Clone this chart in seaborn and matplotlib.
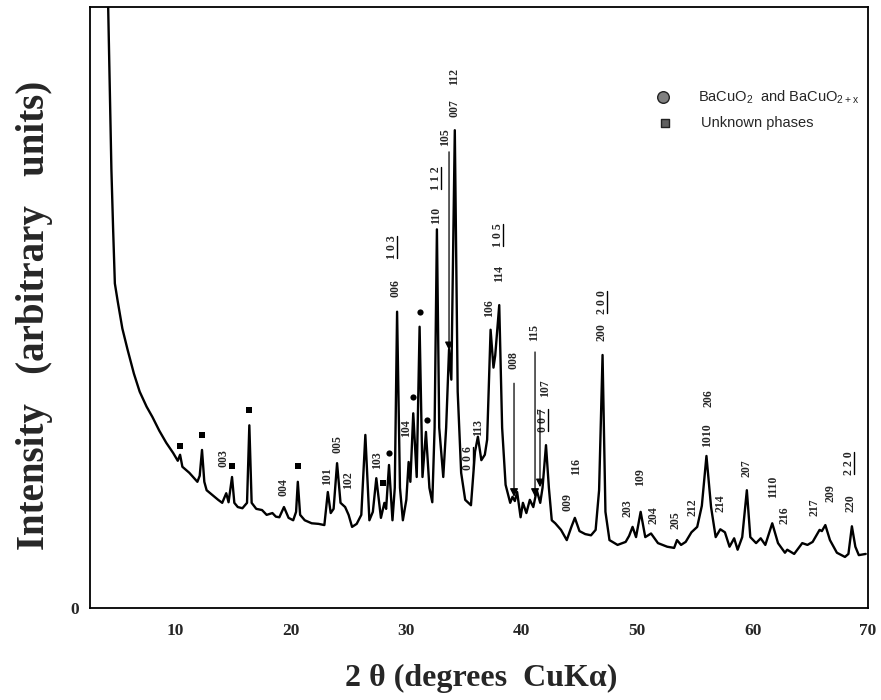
import matplotlib
matplotlib.use("Agg")
import matplotlib.pyplot as plt
from matplotlib.lines import Line2D
import pandas as pd
import seaborn as sns

# XRD scan (2 theta in degrees, intensity in arbitrary units)
two_theta = [4.15, 4.45, 4.6, 4.75, 5.0, 5.4, 5.85, 6.4, 6.9, 7.5,
             8.0, 8.6, 9.2, 9.8, 10.2, 10.4, 10.6, 11.2, 11.9, 12.1,
             12.3, 12.5, 12.7, 13.2, 13.7, 14.05, 14.4, 14.6, 14.9, 15.1,
             15.4, 15.8, 16.2, 16.4, 16.6, 17.0, 17.5, 17.9, 18.4, 18.7,
             19.0, 19.4, 19.8, 20.2, 20.45, 20.6, 20.8, 21.2, 21.8, 22.4,
             22.9, 23.2, 23.45, 23.7, 24.0, 24.3, 24.7, 25.0, 25.3, 25.7,
             26.1, 26.45, 26.8, 27.1, 27.4, 27.8, 28.1, 28.25, 28.5, 28.8,
             29.0, 29.2, 29.45, 29.7, 30.0, 30.2, 30.35, 30.6, 30.9, 31.15,
             31.4, 31.7, 32.0, 32.25, 32.45, 32.65, 32.85, 33.2, 33.45, 33.7,
             33.9, 34.2, 34.45, 34.75, 35.1, 35.6, 35.95, 36.2, 36.5, 36.8,
             37.0, 37.3, 37.55, 37.7, 38.05, 38.3, 38.6, 39.0, 39.2, 39.4,
             39.6, 39.9, 40.1, 40.4, 40.7, 41.0, 41.3, 41.6, 41.8, 42.1,
             42.35, 42.6, 42.9, 43.4, 43.9, 44.3, 44.6, 45.0, 45.5, 46.0,
             46.4, 46.7, 47.0, 47.25, 47.6, 48.3, 49.0, 49.3, 49.6, 49.9,
             50.3, 50.7, 51.2, 51.8, 52.6, 53.2, 53.45, 53.8, 54.2, 54.7,
             55.2, 55.6, 56.0, 56.4, 56.8, 57.2, 57.6, 58.0, 58.4, 58.7,
             59.1, 59.5, 59.8, 60.3, 60.7, 61.1, 61.7, 62.2, 62.8, 63.0,
             63.6, 64.3, 64.75, 65.2, 65.8, 66.0, 66.3, 66.7, 67.3, 68.0,
             68.3, 68.6, 68.9, 69.2, 69.8]
intensity = [102, 73, 63, 54, 51, 46.5, 43, 39, 36, 33.5,
             31.8, 29.5, 27.5, 25.8, 24.5, 25.5, 23.5, 22.5, 21.0, 22.0,
             26.3, 21.0, 19.6, 18.8, 18.0, 17.5, 19.1, 17.6, 21.8, 17.5,
             16.8, 16.6, 17.5, 30.4, 17.5, 16.5, 16.3, 15.5, 15.8, 15.2,
             15.1, 16.8, 15.0, 14.6, 16.0, 21.0, 15.5, 14.6, 14.1, 14.0,
             13.8, 19.3, 15.8, 16.5, 24.1, 17.5, 16.8, 15.5, 13.5, 14.0,
             15.5, 28.8, 14.6, 16.0, 21.6, 15.0, 17.5, 16.5, 23.8, 14.6,
             20.0, 49.3, 20.0, 14.6, 18.0, 24.3, 21.0, 32.4, 21.8, 46.8,
             21.8, 29.3, 20.0, 17.6, 30.0, 63.0, 30.0, 21.8, 30.0, 43.0,
             38.0, 79.5, 36.0, 22.5, 18.0, 17.1, 26.0, 28.5, 24.6, 25.5,
             28.0, 46.3, 40.0, 42.0, 50.4, 30.0, 20.5, 17.5, 18.5, 17.8,
             19.3, 15.1, 17.5, 15.8, 18.0, 16.8, 19.6, 17.5, 20.0, 27.1,
             20.0, 14.6, 14.1, 13.0, 11.3, 13.5, 15.0, 12.8, 12.3, 12.1,
             13.0, 19.6, 42.1, 16.0, 11.3, 10.5, 11.0, 12.0, 13.5, 11.8,
             16.0, 11.8, 12.4, 10.8, 10.2, 10.0, 11.3, 10.5, 11.0, 12.6,
             13.5, 17.0, 25.3, 16.8, 11.8, 13.1, 12.6, 10.2, 11.6, 9.7,
             11.8, 19.6, 11.8, 10.8, 11.6, 10.5, 14.1, 10.8, 9.2, 9.7,
             9.0, 10.8, 10.5, 11.0, 13.0, 12.8, 13.8, 11.3, 9.2, 8.5,
             9.0, 13.6, 10.2, 8.8, 9.0]

# unknown phases (squares) and BaCuO2 / BaCuO2+x (dots)
square_x = [10.4, 12.3, 14.9, 16.4, 20.6, 27.95]
square_y = [27.0, 28.8, 23.6, 33.0, 23.6, 20.8]
dot_x = [28.5, 30.55, 31.15, 31.75]
dot_y = [25.8, 35.1, 49.3, 31.3]

# hkl indices of the main phase
hkl_text = ["003", "004", "101", "005", "102", "103", "104", "006", "110", "105",
            "007", "112", "113", "106", "114", "008", "115", "107", "009", "116",
            "200", "203", "109", "204", "205", "212", "1010", "206", "214", "207",
            "1110", "216", "217", "209", "220"]
hkl_x = [14.15, 19.33, 23.13, 24.0, 24.94, 27.44, 29.95, 29.08, 32.54, 33.32,
         34.18, 34.18, 36.25, 37.2, 38.07, 39.27, 41.09, 42.0, 43.94, 44.72,
         46.87, 49.2, 50.24, 51.45, 53.35, 54.82, 56.03, 56.2, 57.24, 59.48,
         61.73, 62.76, 65.35, 66.74, 68.46]
hkl_y = [25.0, 20.1, 22.0, 27.3, 21.3, 24.6, 30.0, 53.2, 65.4, 78.4,
         83.2, 88.5, 30.0, 49.9, 55.7, 41.3, 45.9, 36.6, 17.6, 23.5,
         45.9, 16.6, 21.8, 15.5, 14.6, 16.8, 28.8, 34.9, 17.5, 23.3,
         20.1, 15.5, 16.8, 19.1, 17.5]

# underlined indices (second phase)
ul_text = ["1 0 3", "1 1 2", "1 0 5", "0 0 6", "0 0 7", "2 0 0", "2 2 0"]
ul_x = [28.74, 32.54, 37.98, 35.3, 41.85, 46.96, 68.38]
ul_y = [60.1, 71.5, 62.1, 25.0, 31.3, 50.9, 24.1]

# arrows pointing at weak reflections
arrow_x = [33.7, 39.33, 41.15, 41.58]
arrow_top = [75.9, 37.4, 42.6, 32.9]
arrow_tip = [42.9, 18.5, 18.5, 20.1]

sns.set_style("white")
plt.rcParams["font.family"] = ["Liberation Serif", "DejaVu Serif"]
plt.rcParams["mathtext.fontset"] = "custom"
plt.rcParams["mathtext.rm"] = "Liberation Sans"

fig = plt.figure(figsize=(8.81, 7.0), dpi=100)
ax = fig.add_axes([0.1022, 0.1314, 0.8831, 0.8586])

pattern = pd.DataFrame({"two_theta": two_theta, "intensity": intensity})
sns.lineplot(data=pattern, x="two_theta", y="intensity", ax=ax, color="black",
             linewidth=1.7, sort=False, estimator=None)
sns.scatterplot(x=square_x, y=square_y, ax=ax, marker="s", s=20, color="black", linewidth=0)
sns.scatterplot(x=dot_x, y=dot_y, ax=ax, marker="o", s=20, color="black", linewidth=0)

for t, x, y in zip(hkl_text, hkl_x, hkl_y):
    ax.text(x, y, t, rotation=90, ha="center", va="center", fontsize=8.5, fontweight="bold")

ul_objs = []
for t, x, y in zip(ul_text, ul_x, ul_y):
    ul_objs.append(ax.text(x, y, t, rotation=90, ha="center", va="center",
                           fontsize=8.5, fontweight="bold"))

for x, y0, y1 in zip(arrow_x, arrow_top, arrow_tip):
    ax.annotate("", xy=(x, y1), xytext=(x, y0),
                arrowprops=dict(arrowstyle="-|>", color="black", lw=0.9,
                                mutation_scale=12, shrinkA=0, shrinkB=0))

# legend drawn by hand, like the original
ax.scatter([52.2], [85.0], marker="o", s=70, facecolor="#808080", edgecolor="#222222", linewidth=1)
ax.scatter([52.4], [80.7], marker="s", s=40, facecolor="#606060", edgecolor="#222222", linewidth=1)
ax.text(55.25, 85.0, r"BaCuO$_{\mathrm{2}}$  and BaCuO$_{\mathrm{2+x}}$", fontsize=10.5,
        family="Liberation Sans", va="center")
ax.text(55.5, 80.7, "Unknown phases", fontsize=10.5, family="Liberation Sans", va="center")

ax.set_xlim(2.6, 70.0)
ax.set_ylim(0, 100)
ax.set_xticks([10, 20, 30, 40, 50, 60, 70])
ax.set_yticks([0])
ax.set_xticklabels(["10", "20", "30", "40", "50", "60", "70"], fontweight="bold")
ax.set_yticklabels(["0"], fontweight="bold")
ax.tick_params(axis="x", direction="in", length=9, width=1.3, pad=11, labelsize=12.5)
ax.tick_params(axis="y", length=0, pad=8, labelsize=12.5)
ax.set_xlabel("")
ax.set_ylabel("")
for s in ax.spines.values():
    s.set_color("black")
    s.set_linewidth(1.3)

fig.text(35 / 881, 1 - 315 / 700, "Intensity   (arbitrary   units)", rotation=90,
         ha="center", va="center", fontsize=28, fontweight="bold")
fig.text(481 / 881, 1 - 678 / 700, "2 θ (degrees  CuKα)", ha="center", va="center",
         fontsize=23, fontweight="bold")

# underline the second-phase indices
fig.canvas.draw()
renderer = fig.canvas.get_renderer()
W, H = fig.bbox.width, fig.bbox.height
for t in ul_objs:
    bb = t.get_window_extent(renderer)
    xl = (bb.x1 - 1) / W
    fig.add_artist(Line2D([xl, xl], [(bb.y0 + 1) / H, (bb.y1 - 1) / H],
                          transform=fig.transFigure, color="black", lw=1.0))

fig.savefig("out.png", dpi=100)
